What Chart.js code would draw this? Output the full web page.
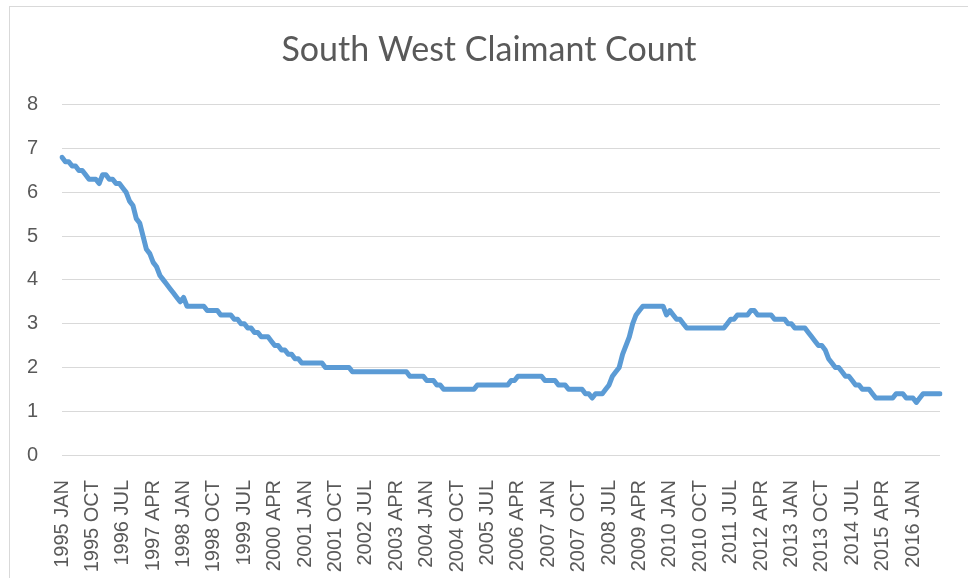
<!DOCTYPE html>
<html>
<head>
<meta charset="utf-8">
<title>South West Claimant Count</title>
<script src="https://cdn.jsdelivr.net/npm/chart.js@4/dist/chart.umd.min.js"></script>
<style>
    html, body { margin: 0; padding: 0; background: #fff; }
    #wrap { position: relative; width: 968px; height: 578px; overflow: hidden; }
    #frame { position: absolute; left: 9px; top: 6px; width: 1000px; height: 620px; border: 1px solid #d9d9d9; box-sizing: border-box; }
    #chart { position: absolute; left: 0; top: 0; }
</style>
</head>
<body>
<div id="wrap">
    <div id="frame"></div>
    <canvas id="chart" width="968" height="578"></canvas>
</div>
<script>
// Categories: monthly, Jan 1995 to Sep 2016
const monthNames = ['JAN', 'FEB', 'MAR', 'APR', 'MAY', 'JUN', 'JUL', 'AUG', 'SEP', 'OCT', 'NOV', 'DEC'];
const startYear = 1995;
const labelEvery = 9; // Excel shows every 9th category

// Claimant count rate (%), one row per year
const claimantRate = [
    6.8, 6.7, 6.7, 6.6, 6.6, 6.5, 6.5, 6.4, 6.3, 6.3, 6.3, 6.2, // 1995
    6.4, 6.4, 6.3, 6.3, 6.2, 6.2, 6.1, 6.0, 5.8, 5.7, 5.4, 5.3, // 1996
    5.0, 4.7, 4.6, 4.4, 4.3, 4.1, 4.0, 3.9, 3.8, 3.7, 3.6, 3.5, // 1997
    3.6, 3.4, 3.4, 3.4, 3.4, 3.4, 3.4, 3.3, 3.3, 3.3, 3.3, 3.2, // 1998
    3.2, 3.2, 3.2, 3.1, 3.1, 3.0, 3.0, 2.9, 2.9, 2.8, 2.8, 2.7, // 1999
    2.7, 2.7, 2.6, 2.5, 2.5, 2.4, 2.4, 2.3, 2.3, 2.2, 2.2, 2.1, // 2000
    2.1, 2.1, 2.1, 2.1, 2.1, 2.1, 2.0, 2.0, 2.0, 2.0, 2.0, 2.0, // 2001
    2.0, 2.0, 1.9, 1.9, 1.9, 1.9, 1.9, 1.9, 1.9, 1.9, 1.9, 1.9, // 2002
    1.9, 1.9, 1.9, 1.9, 1.9, 1.9, 1.9, 1.8, 1.8, 1.8, 1.8, 1.8, // 2003
    1.7, 1.7, 1.7, 1.6, 1.6, 1.5, 1.5, 1.5, 1.5, 1.5, 1.5, 1.5, // 2004
    1.5, 1.5, 1.5, 1.6, 1.6, 1.6, 1.6, 1.6, 1.6, 1.6, 1.6, 1.6, // 2005
    1.6, 1.7, 1.7, 1.8, 1.8, 1.8, 1.8, 1.8, 1.8, 1.8, 1.8, 1.7, // 2006
    1.7, 1.7, 1.7, 1.6, 1.6, 1.6, 1.5, 1.5, 1.5, 1.5, 1.5, 1.4, // 2007
    1.4, 1.3, 1.4, 1.4, 1.4, 1.5, 1.6, 1.8, 1.9, 2.0, 2.3, 2.5, // 2008
    2.7, 3.0, 3.2, 3.3, 3.4, 3.4, 3.4, 3.4, 3.4, 3.4, 3.4, 3.2, // 2009
    3.3, 3.2, 3.1, 3.1, 3.0, 2.9, 2.9, 2.9, 2.9, 2.9, 2.9, 2.9, // 2010
    2.9, 2.9, 2.9, 2.9, 2.9, 3.0, 3.1, 3.1, 3.2, 3.2, 3.2, 3.2, // 2011
    3.3, 3.3, 3.2, 3.2, 3.2, 3.2, 3.2, 3.1, 3.1, 3.1, 3.1, 3.0, // 2012
    3.0, 2.9, 2.9, 2.9, 2.9, 2.8, 2.7, 2.6, 2.5, 2.5, 2.4, 2.2, // 2013
    2.1, 2.0, 2.0, 1.9, 1.8, 1.8, 1.7, 1.6, 1.6, 1.5, 1.5, 1.5, // 2014
    1.4, 1.3, 1.3, 1.3, 1.3, 1.3, 1.3, 1.4, 1.4, 1.4, 1.3, 1.3, // 2015
    1.3, 1.2, 1.3, 1.4, 1.4, 1.4, 1.4, 1.4, 1.4                 // 2016
];

// Y axis range
const yMin = 0;
const yMax = 8;
const yStep = 1;

const categories = claimantRate.map((v, i) =>
    (startYear + Math.floor(i / 12)) + ' ' + monthNames[i % 12]);

const textColor = '#595959';
const gridColor = '#d9d9d9';

const ctx = document.getElementById('chart').getContext('2d');
const chart = new Chart(ctx, {
    type: 'line',
    data: {
        labels: categories,
        datasets: [{
            label: 'South West',
            data: claimantRate,
            borderColor: '#5b9bd5',
            borderWidth: 5,
            borderJoinStyle: 'round',
            borderCapStyle: 'round',
            pointRadius: 0,
            tension: 0,
            fill: false
        }]
    },
    options: {
        responsive: false,
        animation: false,
        layout: { padding: { left: 10, right: 0, top: 0, bottom: 0 } },
        plugins: {
            legend: { display: false },
            tooltip: { enabled: false },
            title: {
                display: true,
                text: 'South West Claimant Count',
                color: textColor,
                font: { family: 'Lato', size: 34, weight: 'normal' },
                padding: { top: 30, bottom: 34 }
            }
        },
        scales: {
            x: {
                grid: { display: false },
                border: { display: false },
                ticks: {
                    autoSkip: false,
                    minRotation: 90,
                    maxRotation: 90,
                    padding: 17,
                    color: textColor,
                    font: { family: 'Liberation Sans', size: 20 },
                    callback: (value, index) => index % labelEvery === 0 ? categories[index] : ''
                },
                afterFit: (scale) => {
                    scale.height = 123;
                    scale.paddingRight = 28;
                }
            },
            y: {
                min: yMin,
                max: yMax,
                grid: { color: gridColor, lineWidth: 1, drawTicks: false },
                border: { display: false },
                ticks: {
                    stepSize: yStep,
                    padding: 24,
                    color: textColor,
                    font: { family: 'Liberation Sans', size: 20 }
                },
                afterFit: (scale) => { scale.width = 52; }
            }
        }
    }
});
</script>
</body>
</html>
